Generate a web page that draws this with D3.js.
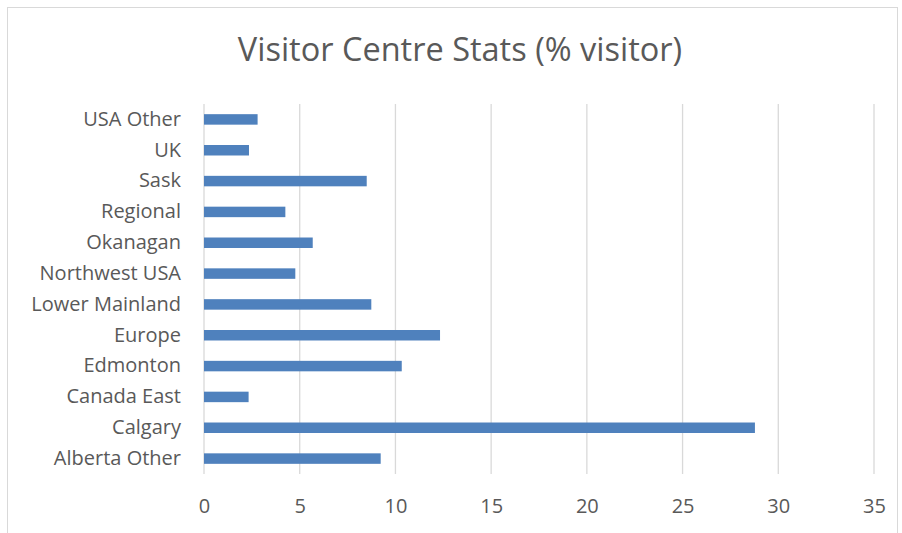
<!DOCTYPE html>
<html lang="en">
<head>
    <meta charset="UTF-8">
    <title>Visitor Centre Stats</title>
    <script src="https://cdn.jsdelivr.net/npm/d3@7"></script>
    <style>
        body { margin: 0; background: #fff; }
        text { font-family: "Open Sans", "Noto Sans", sans-serif; fill: #595959; }
    </style>
</head>
<body>
<svg width="902" height="533"></svg>
<script>
    // categories bottom -> top as in the picture
    var categories = ["Alberta Other", "Calgary", "Canada East", "Edmonton", "Europe", "Lower Mainland",
        "Northwest USA", "Okanagan", "Regional", "Sask", "UK", "USA Other"];
    var values = [9.23, 28.78, 2.33, 10.33, 12.33, 8.74, 4.77, 5.68, 4.25, 8.5, 2.35, 2.8];
    var xTicks = [0, 5, 10, 15, 20, 25, 30, 35];
    var title = "Visitor Centre Stats (% visitor)";

    var svg = d3.select("svg");
    var plotLeft = 204, plotRight = 874, plotTop = 104, plotBottom = 474;

    // chart border
    svg.append("rect")
        .attr("x", 7.5).attr("y", 7.5)
        .attr("width", 890).attr("height", 540)
        .attr("fill", "none")
        .attr("stroke", "#d9d9d9");

    svg.append("text")
        .attr("x", 460).attr("y", 61)
        .attr("text-anchor", "middle")
        .style("font-size", "32.5px")
        .text(title);

    var x = d3.scaleLinear().domain([0, 35]).range([plotLeft, plotRight]);
    var y = d3.scaleBand()
        .domain(categories.slice().reverse())
        .range([plotTop, plotBottom])
        .paddingInner(0.66)
        .paddingOuter(0.33);

    // gridlines
    svg.append("g").selectAll("line")
        .data(xTicks)
        .enter().append("line")
        .attr("x1", function (d) { return x(d); })
        .attr("x2", function (d) { return x(d); })
        .attr("y1", plotTop).attr("y2", plotBottom)
        .attr("stroke", "#d9d9d9")
        .attr("stroke-width", 1.3);

    svg.append("g").selectAll("rect")
        .data(values)
        .enter().append("rect")
        .attr("x", x(0))
        .attr("y", function (d, i) { return y(categories[i]); })
        .attr("width", function (d) { return x(d) - x(0); })
        .attr("height", y.bandwidth())
        .attr("fill", "#4f81bd");

    var xAxis = svg.append("g")
        .attr("transform", "translate(0," + plotBottom + ")")
        .call(d3.axisBottom(x).tickValues(xTicks).tickSize(0).tickPadding(25));
    xAxis.select(".domain").remove();
    xAxis.selectAll("text").style("font-size", "20px").attr("fill", "#595959");

    var yAxis = svg.append("g")
        .attr("transform", "translate(" + plotLeft + ",0)")
        .call(d3.axisLeft(y).tickSize(0).tickPadding(23));
    yAxis.select(".domain").remove();
    yAxis.selectAll("text").style("font-size", "20px").attr("fill", "#595959");
</script>
</body>
</html>
